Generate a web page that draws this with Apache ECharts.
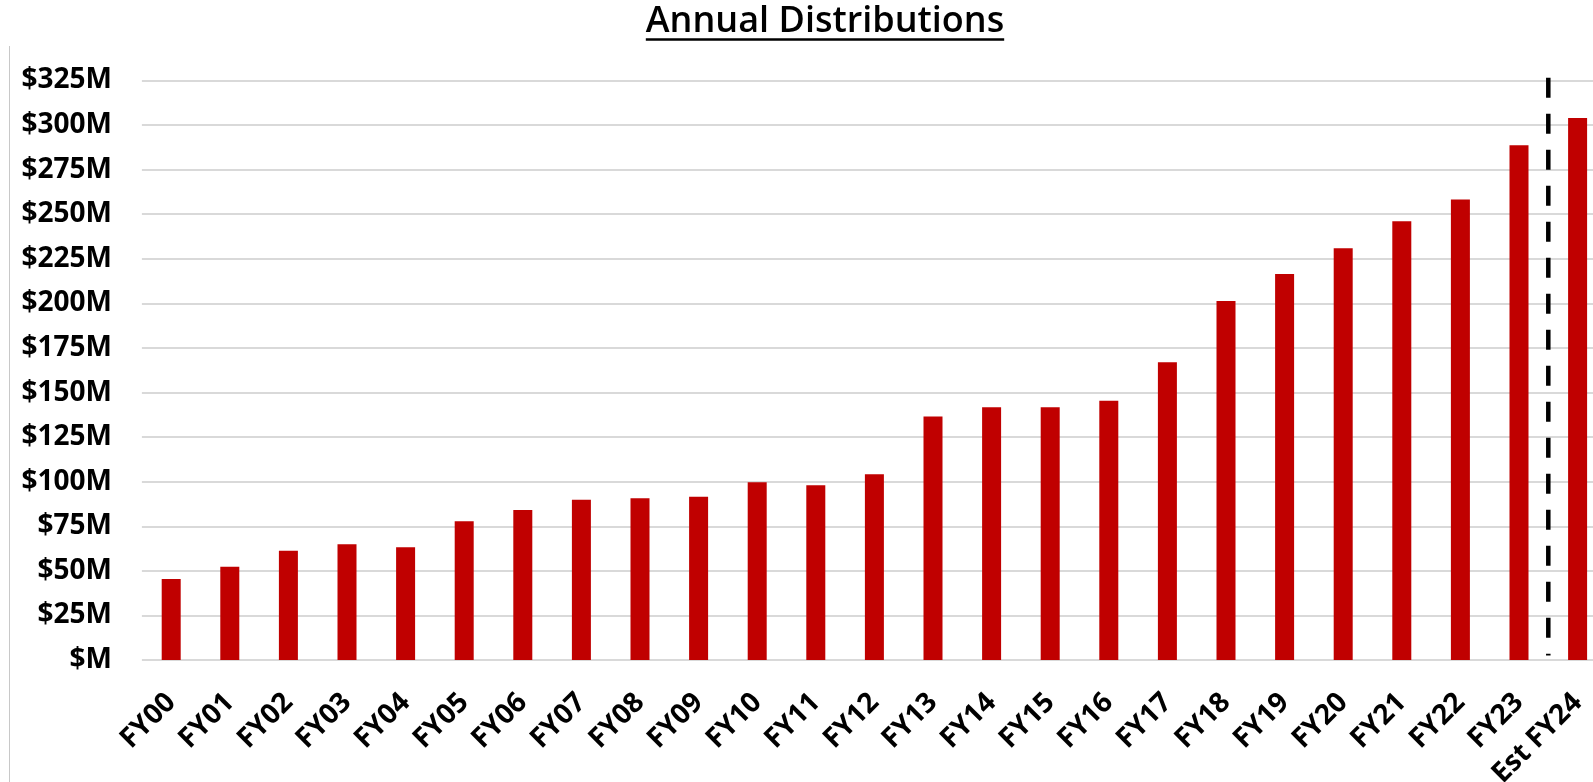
<!DOCTYPE html>
<html>
<head>
<meta charset="utf-8">
<title>Annual Distributions</title>
<script src="https://cdn.jsdelivr.net/npm/echarts@6/dist/echarts.min.js"></script>
<style>
  html, body { margin: 0; padding: 0; background: #fff; }
  #chart { width: 1593px; height: 782px; }
</style>
</head>
<body>
<div id="chart"></div>
<script>
// Fiscal years shown along the bottom axis
const categories = [
  'FY00', 'FY01', 'FY02', 'FY03', 'FY04', 'FY05', 'FY06', 'FY07', 'FY08', 'FY09',
  'FY10', 'FY11', 'FY12', 'FY13', 'FY14', 'FY15', 'FY16', 'FY17', 'FY18', 'FY19',
  'FY20', 'FY21', 'FY22', 'FY23', 'Est FY24'
];

// Annual distributions, $ millions
const distributions = [
  45.4, 52.3, 61.3, 64.9, 63.2, 77.8, 84.1, 89.9, 90.7, 91.6,
  99.7, 98.0, 104.2, 136.5, 141.7, 141.7, 145.4, 167.0, 201.4, 216.5,
  230.9, 246.0, 258.3, 288.7, 303.9
];

// Value-axis ticks ($ millions)
const yTicks = { min: 0, max: 325, step: 25 };

// Divider between actuals and the estimate: category slot 23.5, from top to near zero ($M)
const estimateDivider = [[23.5, 326.6], [23.5, 2.5]];

const TITLE = 'Annual Distributions';
const TITLE_FONT = '600 36px "Open Sans"';
const TITLE_CENTER_X = 825;

const measure = document.createElement('canvas').getContext('2d');
measure.font = TITLE_FONT;
const titleWidth = measure.measureText(TITLE).width;
const titleLeft = TITLE_CENTER_X - titleWidth / 2;

const chart = echarts.init(document.getElementById('chart'), null, { renderer: 'canvas' });

const labelFont = { fontFamily: '"Open Sans", sans-serif', fontWeight: 700, color: '#000' };

chart.setOption({
  animation: false,
  backgroundColor: '#fff',
  title: {
    text: TITLE,
    left: titleLeft,
    top: 4,
    padding: 0,
    textStyle: { fontFamily: '"Open Sans", sans-serif', fontSize: 36, fontWeight: 600, color: '#000' }
  },
  graphic: [
    {
      // title underline
      type: 'line',
      shape: { x1: titleLeft, y1: 39.5, x2: titleLeft + titleWidth, y2: 39.5 },
      style: { stroke: '#000', lineWidth: 2.5 }
    },
    {
      // thin frame edge on the left
      type: 'line',
      shape: { x1: 9.5, y1: 46, x2: 9.5, y2: 782 },
      style: { stroke: '#c8c8c8', lineWidth: 1 }
    }
  ],
  grid: {
    left: 141.9,
    right: -13.9,
    top: 80.5,
    bottom: 122,
    containLabel: false,
    outerBoundsMode: 'none'
  },
  xAxis: [
    {
      type: 'category',
      data: categories,
      boundaryGap: true,
      axisLine: { show: false },
      axisTick: { show: false },
      axisLabel: Object.assign({ interval: 0, rotate: 45, fontSize: 28, margin: 38 }, labelFont)
    },
    {
      type: 'value',
      min: -0.5,
      max: categories.length - 0.5,
      show: false
    }
  ],
  yAxis: {
    type: 'value',
    min: yTicks.min,
    max: yTicks.max,
    interval: yTicks.step,
    axisLine: { show: false },
    axisTick: { show: false },
    splitLine: { show: true, lineStyle: { color: '#d9d9d9', width: 2 } },
    axisLabel: Object.assign({
      fontSize: 28,
      margin: 30,
      formatter: v => (v === 0 ? '$M' : '$' + v + 'M')
    }, labelFont)
  },
  series: [
    {
      name: 'Distributions',
      type: 'bar',
      data: distributions,
      barWidth: 19,
      itemStyle: { color: '#C00000' }
    },
    {
      name: 'Estimate divider',
      type: 'line',
      xAxisIndex: 1,
      data: estimateDivider,
      symbol: 'none',
      clip: false,
      silent: true,
      z: 5,
      lineStyle: { color: '#000', width: 4.5, type: [20, 16] }
    }
  ]
});
</script>
</body>
</html>
